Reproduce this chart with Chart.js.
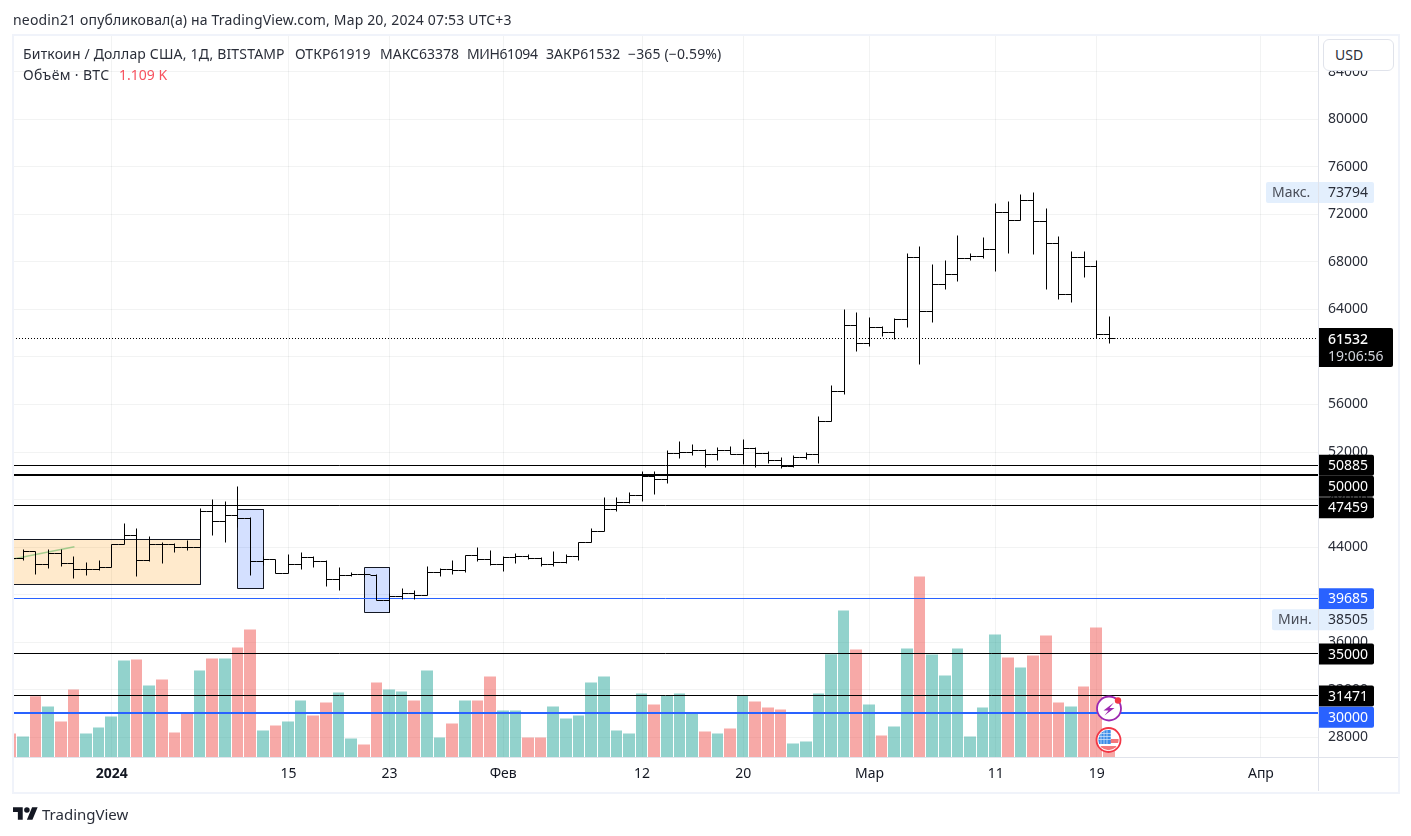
<!DOCTYPE html>
<html lang="ru">
<head>
<meta charset="utf-8">
<title>BTCUSD</title>
<script src="https://cdn.jsdelivr.net/npm/chart.js@4"></script>
<style>
html,body{margin:0;padding:0;background:#fff;width:1411px;height:836px;overflow:hidden;font-family:"Noto Sans",Roboto,sans-serif;color:#131722}
canvas{position:absolute;left:0;top:0}
.t{position:absolute;white-space:nowrap;font-size:14px;line-height:18px;color:#2a2e39}
#frame{position:absolute;left:12px;top:34px;width:1384px;height:756px;border:2px solid #f0f3fa;pointer-events:none}
#hline{position:absolute;left:14px;top:757px;width:1384px;height:1px;background:#e0e3eb}
#vline{position:absolute;left:1318px;top:36px;width:1px;height:755px;background:#e0e3eb}
#usd{position:absolute;left:1323px;top:39px;width:69px;height:30px;border:1px solid #e0e3eb;border-radius:6px;background:#fff;font-size:14px;line-height:30px;text-indent:11px;color:#2a2e39}
svg{position:absolute}
</style>
</head>
<body>
<canvas id="c" width="1411" height="836"></canvas>
<div id="frame"></div><div id="hline"></div><div id="vline"></div>
<div id="usd">USD</div>
<div class="t" style="left:13px;top:11px;letter-spacing:.17px">neodin21 опубликовал(а) на TradingView.com, Мар 20, 2024 07:53 UTC+3</div>
<div class="t" style="left:23px;top:45px;letter-spacing:.17px">Биткоин / Доллар США, 1Д, BITSTAMP</div>
<div class="t" style="left:295px;top:45px">ОТКР61919</div>
<div class="t" style="left:380px;top:45px">МАКС63378</div>
<div class="t" style="left:467px;top:45px;letter-spacing:-.4px">МИН61094</div>
<div class="t" style="left:546px;top:45px">ЗАКР61532</div>
<div class="t" style="left:628px;top:45px;letter-spacing:.15px">−365 (−0.59%)</div>
<div class="t" style="left:23px;top:66px;letter-spacing:.35px">Объём · BTC</div>
<div class="t" style="left:119px;top:66px;color:#f7525f">1.109 K</div>
<svg style="left:13px;top:807px" width="25" height="13" viewBox="0 7 36 18"><path fill="#131722" d="M14 25H7V14H0V7h14v18zM28 25h-8l7.5-18h8L28 25z"/><circle fill="#131722" cx="20" cy="11" r="4"/></svg>
<div class="t" style="left:42px;top:805px;font-size:15px;color:#2a2e39">TradingView</div>
<svg style="left:1094px;top:694px" width="30" height="30" viewBox="0 0 30 30">
<circle cx="15" cy="14.5" r="12" fill="#fff" stroke="#9c27b0" stroke-width="1.8"/>
<path d="M20 8.5 9.5 16.5h5L10.5 21.5l10-7.6h-5z" fill="#9c27b0"/>
<circle cx="24" cy="6.5" r="3.2" fill="#f23645"/></svg>
<svg style="left:1094px;top:726px" width="30" height="30" viewBox="0 0 30 30">
<defs><clipPath id="fc"><circle cx="14.5" cy="14" r="10.2"/></clipPath></defs>
<circle cx="14.5" cy="14" r="12" fill="#fff" stroke="#f23645" stroke-width="1.8"/>
<g clip-path="url(#fc)"><rect x="3" y="3" width="24" height="24" fill="#fff"/>
<rect x="16" y="13" width="12" height="4" fill="#f4777b"/><rect x="3" y="20" width="24" height="8" fill="#f4777b"/>
<rect x="3" y="4" width="13.7" height="14" fill="#3d8de8"/>
<path d="M3 7.5h14M3 10.5h14M3 13.5h14M7 4v14M10 4v14M13 4v14" stroke="#fff" stroke-width=".7" opacity=".8"/></g></svg>
<script>
// Calendar days counted from 1 Jan 2024 (0 = 2024-01-01)
const days = [-8,-7,-6,-5,-4,-3,-2,-1,0,1,2,3,4,5,6,7,8,9,10,11,12,13,14,15,16,17,18,19,20,21,22,23,24,25,26,27,28,29,30,31,32,33,34,35,36,37,38,39,40,41,42,43,44,45,46,47,48,49,50,51,52,53,54,55,56,57,58,59,60,61,62,63,64,65,66,67,68,69,70,71,72,73,74,75,76,77,78,79];
const opens = [43400,43030,43647,42553,43478,42637,42132,42132,42301,44236,44992,42890,44236,44236,43983,43983,47011,46170,46675,46423,42777,42918,41796,42553,43142,42805,41291,41600,41712,41572,39497,39861,40114,39917,41880,42132,42048,43310,42973,42553,43085,43226,43057,42553,42721,43170,44403,45329,47179,47768,48329,49955,49703,51890,51974,52170,51750,52142,51834,52311,51890,51329,50796,51553,51750,54583,57107,62603,61145,62491,62071,63164,68380,63837,66108,66950,68296,68436,69053,72165,71492,73175,71408,69557,65267,68380,67623,61919];
const highs = [43600,43815,43647,43759,43815,43170,42665,42890,44236,45946,45525,44852,44404,44320,44516,47264,47965,47797,49058,46507,43250,42974,43338,43562,43198,42861,42244,41880,41936,41656,40058,40534,40310,42356,42188,42889,43310,43927,43730,43170,43478,43366,43141,43590,43338,44403,45581,48189,48189,48609,50376,50376,52142,52927,52675,52226,52367,52479,53068,52395,52030,51525,51722,51974,55004,57612,64005,63697,63276,62547,63248,68660,69249,67735,68071,70258,68716,70006,72950,73118,73707,73794,72446,70090,68912,68912,68155,63378];
const lows = [42800,42861,41684,42189,42357,41347,41600,42020,42301,44236,41516,42805,42609,43534,43703,43983,44965,44376,45665,41572,42450,41768,41740,42104,42273,40674,40338,41516,41460,39497,38505,39553,39553,39917,41515,41683,41852,42805,42412,41936,42609,42973,42384,42328,42637,42861,44403,45329,46983,47684,47824,48413,49366,51441,51722,50684,51273,51806,50909,50684,51049,50600,50712,51385,51022,54583,56827,60444,60893,61706,61454,62463,59351,62884,65688,66333,68099,68267,67202,68688,71492,68604,65688,64847,64566,66669,61538,61094];
const closes = [43030,43647,42553,43478,42637,42132,42132,42301,44236,44992,42890,44236,44236,43983,43983,47011,46170,46675,46423,42777,42918,41796,42553,43142,42805,41291,41600,41712,41656,39497,39861,40114,39917,41880,42132,42048,43310,42973,42553,43085,43226,43057,42553,42721,43170,44403,45329,47179,47768,48329,49955,49703,51890,51974,52170,51750,52142,51834,52311,51890,51329,50796,51553,51750,54583,57107,62603,61145,62491,62071,63164,68380,63837,66108,66950,68296,68436,69053,72165,71492,73175,71408,69557,65267,68380,67623,61903,61532];
const volumes = [960,840,2453,2040,1440,2720,960,1200,1640,3880,3920,2880,3120,1000,1747,3480,3960,3960,4400,5120,1080,1280,1440,2280,1680,2200,2600,760,520,3000,2720,2640,2280,3480,800,1360,2280,2280,3240,1880,1880,800,800,2040,1560,1680,3000,3240,1080,960,2560,2120,2480,2560,1747,1040,960,1160,2480,2240,2000,1920,560,640,2560,4133,5880,4320,2120,880,1240,4360,7240,4120,3280,4360,840,2000,4920,4000,3600,4080,4880,2200,2040,2840,5200,1109];
const upDown = ["r","g","r","g","r","r","g","g","g","g","r","g","r","r","r","g","r","g","r","r","g","r","g","g","r","r","g","g","r","r","g","g","r","g","g","r","g","r","r","g","g","r","r","g","g","g","g","g","g","g","g","r","g","g","g","r","g","r","g","r","r","r","g","g","g","g","g","r","g","r","g","g","r","g","g","g","g","g","g","r","g","r","r","r","g","r","r","r"];

const tickDays = [0,14,22,31,42,50,60,70,78,91];
const tickNames = ["2024","15","23","Фев","12","20","Мар","11","19","Апр"];
const priceTicks = [28000,32000,36000,40000,44000,48000,52000,56000,60000,64000,68000,72000,76000,80000,84000];

const blackLevels = [50885,47459,35000,31471];
const heavyLevel = 50000;
const blueLevel = 39685;
const heavyBlueLevel = 30000;
const lastPrice = 61532;
const maxPrice = 73794;
const minPrice = 38505;

// price rectangles: [day from, day to, price top, price bottom]
const orangeBox = [-9,7,44656,40870];
const blueBoxes = [[10,12,47180,40530],[20,22,42300,38505]];
const trendLine = [[-7.82,43002],[-2.95,44039]];

const xMin = -7.816, xMax = 95.52;
const priceMin = 26301, priceMax = 87084;
const volumeMax = 28900;

function levelLine(v){ return [{x:xMin,y:v},{x:xMax,y:v}]; }
function boxPath(b){ return [{x:b[0],y:b[2]},{x:b[1],y:b[2]},{x:b[1],y:b[3]},{x:b[0],y:b[3]},{x:b[0],y:b[2]}]; }

const ohlcPoints = [];
days.forEach((d,i)=>{
  ohlcPoints.push({x:d,y:lows[i]},{x:d,y:highs[i]},{x:d,y:null});
  ohlcPoints.push({x:d-0.5,y:opens[i]},{x:d,y:opens[i]},{x:d,y:null});
  ohlcPoints.push({x:d,y:closes[i]},{x:d+0.5,y:closes[i]},{x:d+0.5,y:null});
});

const FONT='"Noto Sans",Roboto,sans-serif';
const GREEN='rgba(38,166,154,0.5)', RED='rgba(239,83,80,0.5)', INK='#000000';
const common={type:'line',pointRadius:0,pointHoverRadius:0,tension:0,spanGaps:false,fill:false,xAxisID:'x',yAxisID:'y'};

const datasets=[
 {type:'bar',label:'Объём',order:10,yAxisID:'v',xAxisID:'x',barThickness:11,borderWidth:0,inflateAmount:0,
  data:days.map((d,i)=>({x:d,y:volumes[i]})),backgroundColor:upDown.map(s=>s==='g'?GREEN:RED),snapBars:true},
 {...common,label:'Box',order:9,data:boxPath(orangeBox),fill:'shape',backgroundColor:'rgba(255,152,0,0.2)',borderColor:'#131722',borderWidth:1,snap:1},
 {...common,label:'Box',order:9,data:boxPath(blueBoxes[0]),fill:'shape',backgroundColor:'rgba(41,98,255,0.2)',borderColor:'#131722',borderWidth:1,snap:1},
 {...common,label:'Box',order:9,data:boxPath(blueBoxes[1]),fill:'shape',backgroundColor:'rgba(41,98,255,0.2)',borderColor:'#131722',borderWidth:1,snap:1},
 {...common,label:'Trend',order:8,data:trendLine.map(p=>({x:p[0],y:p[1]})),borderColor:'rgba(76,175,80,0.5)',borderWidth:1.5},
 ...blackLevels.map(v=>({...common,label:String(v),order:6,data:levelLine(v),borderColor:'#000',borderWidth:1,snap:1,level:true})),
 {...common,label:String(heavyLevel),order:6,data:levelLine(heavyLevel),borderColor:'#000',borderWidth:2,snap:2,level:true},
 {...common,label:String(blueLevel),order:6,data:levelLine(blueLevel),borderColor:'#2962ff',borderWidth:1,snap:1,level:true},
 {...common,label:String(heavyBlueLevel),order:6,data:levelLine(heavyBlueLevel),borderColor:'#2962ff',borderWidth:2,snap:2,level:true},
 {...common,label:'Last',order:5,data:levelLine(lastPrice),borderColor:'#000',borderWidth:1,borderDash:[1,2],snap:1,level:true},
 {...common,label:'OHLC',order:1,data:ohlcPoints,borderColor:INK,borderWidth:1,snap:1}
];

// pixel snapping so that thin marks stay crisp, as they do in the reference
const snapPlugin={id:'snap',afterDatasetsUpdate(chart){
  chart.data.datasets.forEach((ds,i)=>{
    const meta=chart.getDatasetMeta(i);
    if(ds.snapBars){
      meta.data.forEach(el=>{
        const l=Math.round(el.x-6.31), r=Math.round(el.x+6.31)-1;
        el.x=(l+r)/2; el.width=r-l;
      });
    } else if(ds.snap){
      const off=ds.snap%2?0.5:0;
      meta.data.forEach(el=>{
        if(ds.level){
          el.x=Math.round(el.x);
          el.y=Math.floor(el.y-0.2)+off;
          return;
        }
        if(isFinite(el.x)) el.x=Math.round(el.x-off)+off;
        if(isFinite(el.y)) el.y=Math.round(el.y-off)+off;
      });
    }
  });
}};

const priceTags=[
 {v:50885,bg:'#000',fg:'#fff',dy:0},
 {v:50000,bg:'#000',fg:'#fff',dy:10.5},
 {v:47459,bg:'#000',fg:'#fff',dy:1.7},
 {v:39685,bg:'#2962ff',fg:'#fff',dy:0.3},
 {v:35000,bg:'#000',fg:'#fff',dy:0},
 {v:31471,bg:'#000',fg:'#fff',dy:0},
 {v:30000,bg:'#2962ff',fg:'#fff',dy:3.8}
];
const tagPlugin={id:'tags',afterDraw(chart){
  const c=chart.ctx,y=chart.scales.y,ax=1319;
  c.save();
  c.font='14px '+FONT;
  c.textBaseline='middle';
  const soft=(v,name,left,dy)=>{
    const py=y.getPixelForValue(v)+dy;
    c.fillStyle='#e3effd';
    c.beginPath();c.roundRect(left,py-10.5,1374-left,21,2);c.fill();
    c.fillStyle='#4a4e59';c.textAlign='left';c.fillText(name,left+6,py+0.5);
    c.fillStyle='#2a2e39';c.fillText(String(v),1328,py+0.5);
  };
  priceTags.forEach(t=>{
    const py=y.getPixelForValue(t.v)+t.dy;
    c.fillStyle=t.bg;
    c.beginPath();c.roundRect(ax-1,py-10.5,56,21,[0,2,2,0]);c.fill();
    c.fillStyle=t.fg;c.textAlign='left';c.fillText(String(t.v),1328,py+0.5);
  });
  soft(maxPrice,'Макс.',1266,-0.5);
  soft(minPrice,'Мин.',1272,7.3);
  const ly=y.getPixelForValue(lastPrice);
  c.fillStyle='#000';
  c.beginPath();c.roundRect(ax-1,328,75,39,[0,2,2,0]);c.fill();
  c.fillStyle='#fff';c.textAlign='left';
  c.font='500 14px '+FONT;
  c.fillText(String(lastPrice),1328,ly+1);
  c.font='14px '+FONT;
  c.fillStyle='#d1d4dc';
  c.fillText('19:06:56',1328,357);
  c.restore();
}};

new Chart(document.getElementById('c'),{
 data:{datasets},
 plugins:[snapPlugin,tagPlugin],
 options:{
  responsive:false,animation:false,devicePixelRatio:1,
  layout:{padding:{left:13,right:13,top:35,bottom:44}},
  events:[],
  plugins:{legend:{display:false},tooltip:{enabled:false}},
  scales:{
   x:{type:'linear',position:'bottom',min:xMin,max:xMax,offset:false,
      afterBuildTicks(s){s.ticks=tickDays.map(v=>({value:v}));},
      afterFit(s){s.height=34.5;},
      grid:{color:'rgba(42,46,57,0.06)',drawTicks:false,offset:false},
      border:{color:'#e0e3eb'},
      ticks:{autoSkip:false,maxRotation:0,padding:8,color:'#131722',
        font:ctx=>({family:FONT,size:14,weight:ctx.tick&&ctx.tick.value===0?'bold':'normal'}),
        callback:v=>{const i=tickDays.indexOf(v);return i<0?'':tickNames[i];}}},
   y:{type:'linear',position:'right',min:priceMin,max:priceMax,
      afterBuildTicks(s){s.ticks=priceTicks.map(v=>({value:v}));},
      afterFit(s){s.width=80;},
      grid:{color:'rgba(42,46,57,0.06)',drawTicks:false},
      border:{color:'#e0e3eb'},
      ticks:{autoSkip:false,padding:10,color:'#2a2e39',
        font:{family:FONT,size:14},
        callback:v=>String(v)}},
   v:{type:'linear',display:false,position:'right',min:0,max:volumeMax,grid:{display:false}}
  }
 }
});
</script>
</body>
</html>
